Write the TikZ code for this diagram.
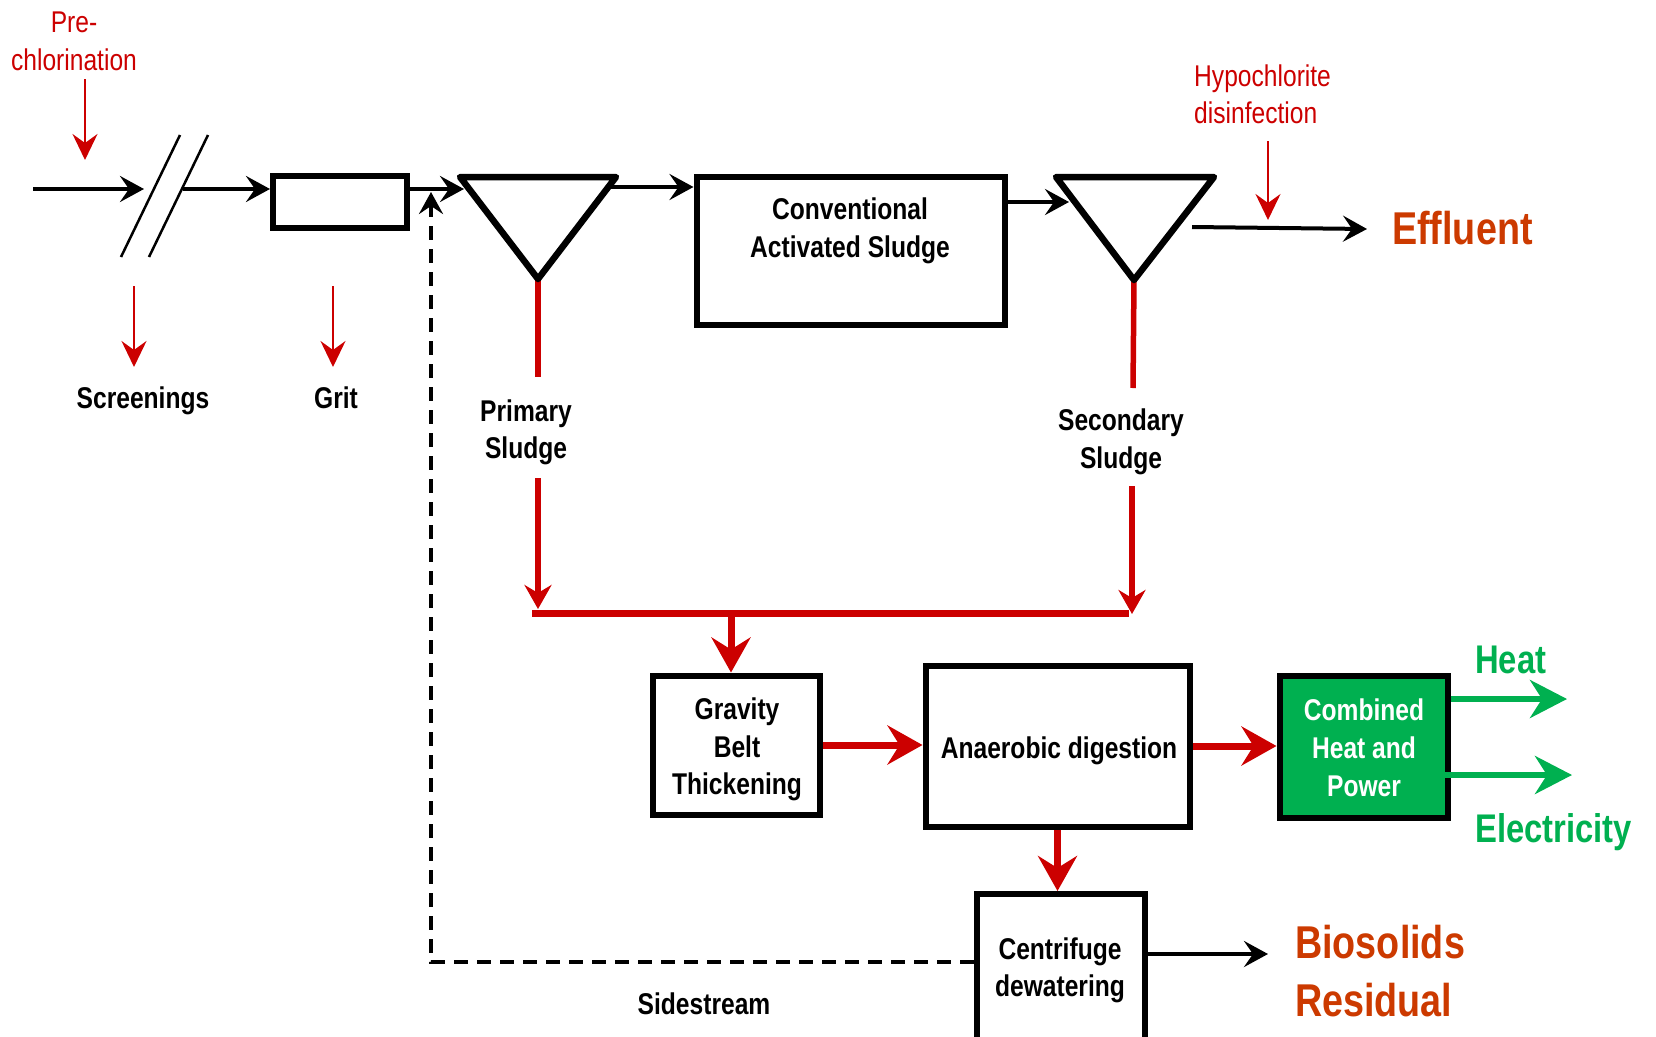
\documentclass[tikz,border=0pt]{standalone}
\usepackage{fontspec}
\setmainfont{Liberation Sans}[FakeStretch=0.82]
\usetikzlibrary{arrows.meta}
\definecolor{cred}{RGB}{204,0,0}
\definecolor{corange}{RGB}{204,58,0}
\definecolor{cgreen}{RGB}{0,176,80}
\begin{document}
\begin{tikzpicture}[x=1pt,y=-1pt,
 lbl/.style={inner sep=0pt, font=\fontsize{30}{36}\selectfont\bfseries, anchor=base},
 wlbl/.style={lbl, text=white},
 rlbl/.style={inner sep=0pt, font=\fontsize{30}{36}\selectfont, text=cred, anchor=base},
 big/.style={inner sep=0pt, font=\fontsize{46}{52}\selectfont\bfseries, text=corange, anchor=base west},
 gbig/.style={inner sep=0pt, font=\fontsize{40}{46}\selectfont\bfseries, text=cgreen, anchor=base west},
 box/.style={draw, line width=6pt, inner sep=0pt},
 tri/.style={line width=6.5pt, line join=round},
 blk/.style={line width=4pt, -{Stealth[length=24pt,width=26pt,inset=9pt]}},
 slash/.style={line width=2.5pt},
 rthin/.style={cred, line width=2.3pt, -{Stealth[length=26pt,width=25pt,inset=9pt]}},
 rmid/.style={cred, line width=5.5pt},
 rmidarr/.style={rmid, -{Stealth[length=24pt,width=27pt,inset=8pt]}},
 rbar/.style={cred, line width=7pt},
 rthick/.style={cred, line width=7pt, -{Stealth[length=35pt,width=39pt,inset=12pt]}},
 garr/.style={cgreen, line width=6pt, -{Stealth[length=37pt,width=38pt,inset=12pt]}},
 dashedarr/.style={line width=4pt, dash pattern=on 14pt off 9pt, -{Stealth[length=22pt,width=24pt,inset=8pt]}},
]
\useasboundingbox (0,0) rectangle (1656,1036);

% ---- coordinates
\coordinate (t1a) at (460,177);
\coordinate (t1b) at (616,177);
\coordinate (t1c) at (538,279);
\coordinate (t2a) at (1056,177);
\coordinate (t2b) at (1214,177);
\coordinate (t2c) at (1134,280);

\coordinate (in0) at (33,189);
\coordinate (in1) at (144,189);
\coordinate (sc1) at (183,189);
\coordinate (t1in) at (464,189);
\coordinate (t1out) at (611,187);
\coordinate (t2in) at (1069,202);
\coordinate (ef0) at (1192,227);
\coordinate (ef1) at (1367,229);

\coordinate (s1a) at (180,135);
\coordinate (s1b) at (121,257);
\coordinate (s2a) at (208,135);
\coordinate (s2b) at (149,257);

\coordinate (pc0) at (85,79);
\coordinate (pc1) at (85,160);
\coordinate (hy0) at (1268,141);
\coordinate (hy1) at (1268,220);
\coordinate (sr0) at (134,286);
\coordinate (sr1) at (134,367);
\coordinate (gr0) at (333,286);
\coordinate (gr1) at (333,367);

\coordinate (ps0) at (538,377);
\coordinate (ps1) at (538,478);
\coordinate (ps2) at (538,609);
\coordinate (ss0) at (1133,388);
\coordinate (ss1) at (1132,486);
\coordinate (ss2) at (1132,614);
\coordinate (h0) at (532,613);
\coordinate (h1) at (1129,613);
\coordinate (hd) at (731,613);

\coordinate (heat) at (1567,699);
\coordinate (elec) at (1572,775);
\coordinate (elec0) at (1445,775);
\coordinate (bio) at (1268,954);
\coordinate (ds) at (431,962);
\coordinate (dtop) at (431,192);

% ---- red sludge lines (under shapes)
\draw[rmid] (t1c) -- (ps0);
\draw[rmidarr] (ps1) -- (ps2);
\draw[rmid] (t2c) -- (ss0);
\draw[rmidarr] (ss1) -- (ss2);
\draw[rbar] (h0) -- (h1);

% ---- boxes
\node[box, minimum width=134pt, minimum height=52pt] (grit) at (340,202) {};
\node[box, minimum width=308pt, minimum height=148pt] (cas) at (850.5,250.5) {};
\node[box, minimum width=167pt, minimum height=139pt] (gbt) at (736,745) {};
\node[box, minimum width=264pt, minimum height=161pt] (ad) at (1057.5,746) {};
\node[box, fill=cgreen, minimum width=168pt, minimum height=142pt] (chp) at (1363.5,746.5) {};
\node[box, minimum width=168pt, minimum height=146pt] (cf) at (1060.5,967) {};

% ---- triangles (settlers)
\draw[tri] (t1a) -- (t1b) -- (t1c) -- cycle;
\draw[tri] (t2a) -- (t2b) -- (t2c) -- cycle;

% ---- screens
\draw[slash] (s1a) -- (s1b);
\draw[slash] (s2a) -- (s2b);

% ---- main liquid flow
\draw[blk] (in0) -- (in1);
\draw[blk] (sc1) -- (sc1 -| grit.west);
\draw[blk] (grit.east |- in0) -- (t1in);
\draw[blk] (t1out) -- (t1out -| cas.west);
\draw[blk] (t2in -| cas.east) -- (t2in);
\draw[blk] (ef0) -- (ef1);

% ---- chemical dosing / removals
\draw[rthin] (pc0) -- (pc1);
\draw[rthin] (hy0) -- (hy1);
\draw[rthin] (sr0) -- (sr1);
\draw[rthin] (gr0) -- (gr1);

% ---- sludge train
\draw[rthick] (hd) -- (hd |- gbt.north);
\draw[rthick] (gbt.east) -- (gbt.east -| ad.west);
\draw[rthick] (ad.east) -- (ad.east -| chp.west);
\draw[rthick] (ad.south) -- (ad.south |- cf.north);
\draw[garr] (heat -| chp.east) -- (heat);
\draw[garr] (elec0) -- (elec);
\draw[blk] (bio -| cf.east) -- (bio);
\draw[dashedarr] (ds -| cf.west) -- (ds) -- (dtop);

% ---- texts
\node[rlbl] (pre1) at (74,32) {Pre-};
\node[rlbl] (pre2) at (74,70) {chlorination};
\node[rlbl, anchor=base west] (hyp1) at (1194,86) {Hypochlorite};
\node[rlbl, anchor=base west] (hyp2) at (1194,123) {disinfection};
\node[lbl] (scrtxt) at (143,408) {Screenings};
\node[lbl] (grittxt) at (336,408) {Grit};
\node[lbl] (pri1) at (526,421) {Primary};
\node[lbl] (pri2) at (526,458) {Sludge};
\node[lbl] (sec1) at (1121,430) {Secondary};
\node[lbl] (sec2) at (1121,468) {Sludge};
\node[lbl] (cas1) at (850,219) {Conventional};
\node[lbl] (cas2) at (850,257) {Activated Sludge};
\node[lbl] (gbt1) at (737,719) {Gravity};
\node[lbl] (gbt2) at (737,757) {Belt};
\node[lbl] (gbt3) at (737,794) {Thickening};
\node[lbl] (adtxt) at (1059,758) {Anaerobic digestion};
\node[wlbl] (chp1) at (1364,720) {Combined};
\node[wlbl] (chp2) at (1364,758) {Heat and};
\node[wlbl] (chp3) at (1364,796) {Power};
\node[lbl] (cf1) at (1060,959) {Centrifuge};
\node[lbl] (cf2) at (1060,996) {dewatering};
\node[lbl] (side) at (704,1014) {Sidestream};
\node[big] (efftxt) at (1392,244) {Effluent};
\node[big] (biotxt) at (1295,958) {Biosolids};
\node[big] (restxt) at (1295,1016) {Residual};
\node[gbig] (heattxt) at (1475,673) {Heat};
\node[gbig] (electxt) at (1475,842) {Electricity};
\end{tikzpicture}
\end{document}
